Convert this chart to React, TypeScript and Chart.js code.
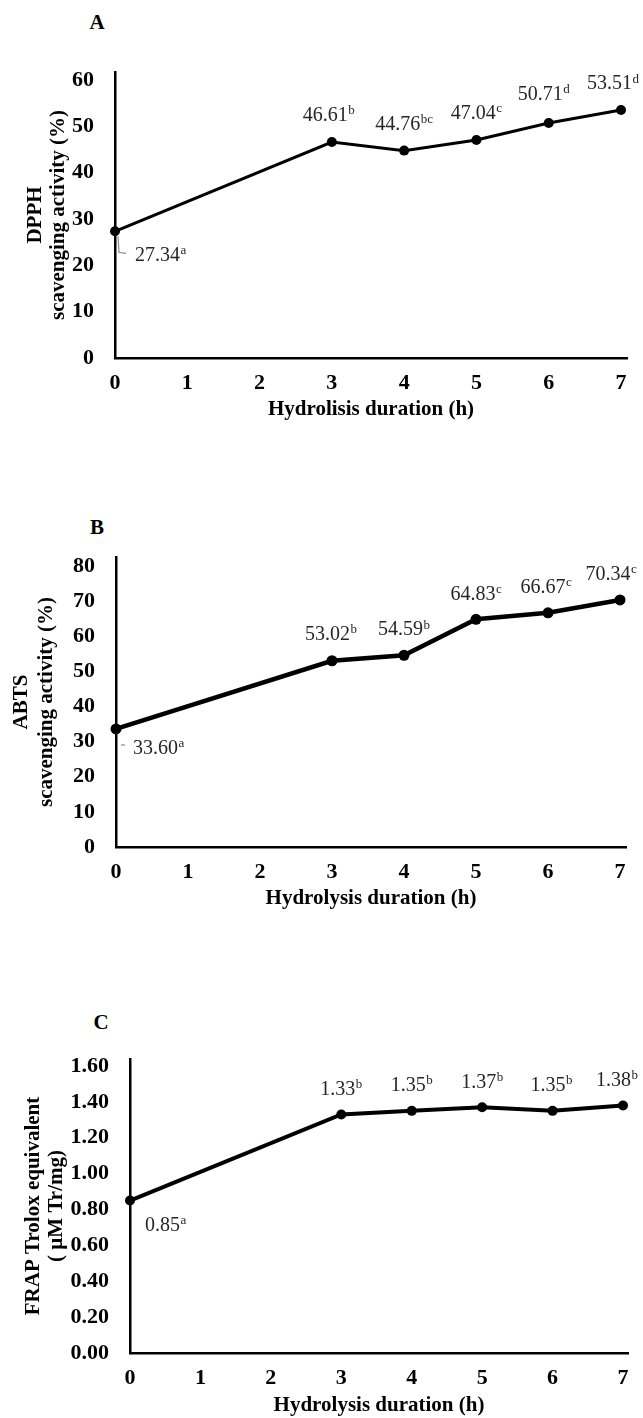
import React, { useEffect, useRef } from "react";
import { Chart, registerables } from "chart.js";

Chart.register(...registerables);

// ---------- data ----------
const hours = [0, 3, 4, 5, 6, 7];
const xTickValues = [0, 1, 2, 3, 4, 5, 6, 7];
const xTickLabels = ["0", "1", "2", "3", "4", "5", "6", "7"];

const dpphValues = [27.34, 46.61, 44.76, 47.04, 50.71, 53.51];
const dpphLetters = ["a", "b", "bc", "c", "d", "d"];
const dpphTicks = [0, 10, 20, 30, 40, 50, 60];

const abtsValues = [33.6, 53.02, 54.59, 64.83, 66.67, 70.34];
const abtsLetters = ["a", "b", "b", "c", "c", "c"];
const abtsTicks = [0, 10, 20, 30, 40, 50, 60, 70, 80];

const frapValues = [0.85, 1.33, 1.35, 1.37, 1.35, 1.38];
const frapLetters = ["a", "b", "b", "b", "b", "b"];
const frapTicks = [0, 0.2, 0.4, 0.6, 0.8, 1.0, 1.2, 1.4, 1.6];

// ---------- styling / layout ----------
const FONT = "'Liberation Serif', 'Times New Roman', serif";
const TICK_SIZE = 22;
const TITLE_SIZE = 21;
const LABEL_SIZE = 20;
const SUP_SIZE = 13;

type LabelPos = { align?: "left" | "center"; dx: number; dy: number; leader?: [number, number][] };

type PanelCfg = {
  key: string;
  letter: string;
  letterX: number;
  letterY: number;
  canvasTop: number;
  plotTop: number;
  plotBottom: number;
  plotLeft: number;
  plotRight: number;
  yTitleX: number;
  yTitleGap: number;
  xTitleOffset: number;
  yMax: number;
  xMax: number;
  values: number[];
  letters: string[];
  yTicks: number[];
  decimals: number;
  yTitle: string[];
  xTitle: string;
  lineWidth: number;
  pointRadius: number;
  labelPos: LabelPos[];
};

const panels: PanelCfg[] = [
  {
    key: "A",
    letter: "A",
    letterX: 97,
    letterY: 22,
    canvasTop: 0,
    plotTop: 72,
    plotBottom: 358,
    plotLeft: 115,
    plotRight: 627,
    yTitleX: 36,
    yTitleGap: 23,
    xTitleOffset: 52,
    yMax: 61.73,
    xMax: 7.083,
    values: dpphValues,
    letters: dpphLetters,
    yTicks: dpphTicks,
    decimals: 0,
    yTitle: ["DPPH", "scavenging activity (%)"],
    xTitle: "Hydrolisis duration (h)",
    lineWidth: 3,
    pointRadius: 5,
    labelPos: [
      { align: "left", dx: 20, dy: 24, leader: [[3, 5], [4, 21], [11, 22]] },
      { dx: -3, dy: -26 },
      { dx: 0, dy: -26 },
      { dx: 0, dy: -26 },
      { dx: -5, dy: -28 },
      { dx: -8, dy: -26 },
    ],
  },
  {
    key: "B",
    letter: "B",
    letterX: 97,
    letterY: 527,
    canvasTop: 480,
    plotTop: 557,
    plotBottom: 847,
    plotLeft: 116,
    plotRight: 626,
    yTitleX: 22,
    yTitleGap: 25,
    xTitleOffset: 52,
    yMax: 82.56,
    xMax: 7.083,
    values: abtsValues,
    letters: abtsLetters,
    yTicks: abtsTicks,
    decimals: 0,
    yTitle: ["ABTS", "scavenging activity (%)"],
    xTitle: "Hydrolysis duration (h)",
    lineWidth: 4.5,
    pointRadius: 5.5,
    labelPos: [
      { align: "left", dx: 17, dy: 20, leader: [[5, 16], [9, 16]] },
      { dx: -1, dy: -26 },
      { dx: 0, dy: -25 },
      { dx: 0, dy: -25 },
      { dx: -2, dy: -25 },
      { dx: -9, dy: -25 },
    ],
  },
  {
    key: "C",
    letter: "C",
    letterX: 101,
    letterY: 1022,
    canvasTop: 980,
    plotTop: 1059,
    plotBottom: 1353,
    plotLeft: 130,
    plotRight: 628,
    yTitleX: 34,
    yTitleGap: 23,
    xTitleOffset: 53,
    yMax: 1.639,
    xMax: 7.071,
    values: frapValues,
    letters: frapLetters,
    yTicks: frapTicks,
    decimals: 2,
    yTitle: ["FRAP Trolox equivalent", "( µM Tr/mg)"],
    xTitle: "Hydrolysis duration (h)",
    lineWidth: 4,
    pointRadius: 5,
    labelPos: [
      { align: "left", dx: 15, dy: 25 },
      { dx: 0, dy: -25 },
      { dx: 0, dy: -25 },
      { dx: 0, dy: -25 },
      { dx: -1, dy: -25 },
      { dx: -6, dy: -25 },
    ],
  },
];

function makeLabelPlugin(p: PanelCfg) {
  return {
    id: "valueLabels" + p.key,
    afterDatasetsDraw(chart: any) {
      const ctx = chart.ctx as CanvasRenderingContext2D;
      const meta = chart.getDatasetMeta(0);
      ctx.save();
      meta.data.forEach((el: any, i: number) => {
        const x = el.x;
        const y = el.y;
        const pos = p.labelPos[i];
        const main = p.values[i].toFixed(2);
        const sup = p.letters[i];
        ctx.font = `${LABEL_SIZE}px ${FONT}`;
        const mw = ctx.measureText(main).width;
        ctx.font = `${SUP_SIZE}px ${FONT}`;
        const sw = ctx.measureText(sup).width;
        const total = mw + sw + 0.5;
        const left = pos.align === "left" ? x + pos.dx : x + pos.dx - total / 2;
        const cy = y + pos.dy;
        ctx.fillStyle = "#262626";
        ctx.textBaseline = "middle";
        ctx.textAlign = "left";
        ctx.font = `${LABEL_SIZE}px ${FONT}`;
        ctx.fillText(main, left, cy);
        ctx.font = `${SUP_SIZE}px ${FONT}`;
        ctx.fillText(sup, left + mw + 0.5, cy - 5);
        if (pos.leader) {
          ctx.strokeStyle = "#8c8c8c";
          ctx.lineWidth = 1.2;
          ctx.beginPath();
          pos.leader.forEach(([lx, ly], k) => {
            if (k === 0) ctx.moveTo(x + lx, y + ly);
            else ctx.lineTo(x + lx, y + ly);
          });
          ctx.stroke();
        }
      });
      ctx.restore();
    },
  };
}

function PanelChart({ p }: { p: PanelCfg }) {
  const ref = useRef<HTMLCanvasElement>(null);
  const xScaleH = p.xTitleOffset + 13;
  const canvasH = p.plotBottom - p.canvasTop + xScaleH;
  useEffect(() => {
    const canvas = ref.current;
    if (!canvas) return;
    const padLeft = p.yTitleX - p.yTitleGap / 2;
    const tickFont = { family: FONT, size: TICK_SIZE, weight: "bold" as const };
    const xTitleFont = { family: FONT, size: TITLE_SIZE, weight: "bold" as const, lineHeight: 24 / TITLE_SIZE };
    const yTitleFont = { family: FONT, size: TITLE_SIZE, weight: "bold" as const, lineHeight: p.yTitleGap / TITLE_SIZE };
    const chart = new Chart(canvas, {
      type: "line",
      data: {
        datasets: [
          {
            data: hours.map((h, i) => ({ x: h, y: p.values[i] })),
            borderColor: "#000",
            backgroundColor: "#000",
            borderWidth: p.lineWidth,
            pointRadius: p.pointRadius,
            pointBackgroundColor: "#000",
            pointBorderColor: "#000",
            pointBorderWidth: 0,
            tension: 0,
            clip: false as any,
          },
        ],
      },
      options: {
        responsive: false,
        animation: false,
        devicePixelRatio: 1,
        events: [],
        layout: {
          padding: {
            left: padLeft,
            right: 643 - p.plotRight,
            top: p.plotTop - p.canvasTop,
            bottom: 0,
          },
        },
        plugins: { legend: { display: false }, tooltip: { enabled: false } },
        scales: {
          x: {
            type: "linear",
            min: 0,
            max: p.xMax,
            grid: { display: false },
            border: { display: true, color: "#000", width: 2.5 },
            ticks: {
              autoSkip: false,
              maxRotation: 0,
              padding: 4,
              color: "#000",
              font: tickFont,
              callback: (v: any) => xTickLabels[xTickValues.indexOf(Number(v))] ?? "",
            },
            afterBuildTicks: (s: any) => {
              s.ticks = xTickValues.map((v) => ({ value: v }));
            },
            afterFit: (s: any) => {
              s.height = xScaleH;
            },
            title: {
              display: true,
              text: p.xTitle,
              color: "#000",
              font: xTitleFont,
              padding: { top: 0, bottom: 1 },
            },
          },
          y: {
            type: "linear",
            min: 0,
            max: p.yMax,
            grid: { display: false },
            border: { display: true, color: "#000", width: 2.5 },
            ticks: {
              autoSkip: false,
              padding: 13,
              color: "#000",
              font: tickFont,
              callback: (v: any) => Number(v).toFixed(p.decimals),
            },
            afterBuildTicks: (s: any) => {
              s.ticks = p.yTicks.map((v) => ({ value: v }));
            },
            afterFit: (s: any) => {
              s.width = p.plotLeft - padLeft;
            },
            title: {
              display: true,
              text: p.yTitle,
              color: "#000",
              font: yTitleFont,
              padding: { top: 0, bottom: 0 },
            },
          },
        },
      },
      plugins: [makeLabelPlugin(p)],
    });
    return () => chart.destroy();
  }, []);
  return (
    <canvas
      ref={ref}
      width={643}
      height={canvasH}
      style={{ position: "absolute", left: 0, top: p.canvasTop, width: 643, height: canvasH }}
    />
  );
}

export default function App() {
  return (
    <div style={{ position: "relative", width: 643, height: 1418, background: "#fff", overflow: "hidden" }}>
      <style>{`html,body{margin:0;padding:0;background:#fff;}`}</style>
      {panels.map((p) => (
        <React.Fragment key={p.key}>
          <div
            style={{
              position: "absolute",
              left: p.letterX,
              top: p.letterY,
              transform: "translate(-50%, -50%)",
              fontFamily: FONT,
              fontWeight: "bold",
              fontSize: 21,
              lineHeight: "24px",
              color: "#000",
            }}
          >
            {p.letter}
          </div>
          <PanelChart p={p} />
        </React.Fragment>
      ))}
    </div>
  );
}
